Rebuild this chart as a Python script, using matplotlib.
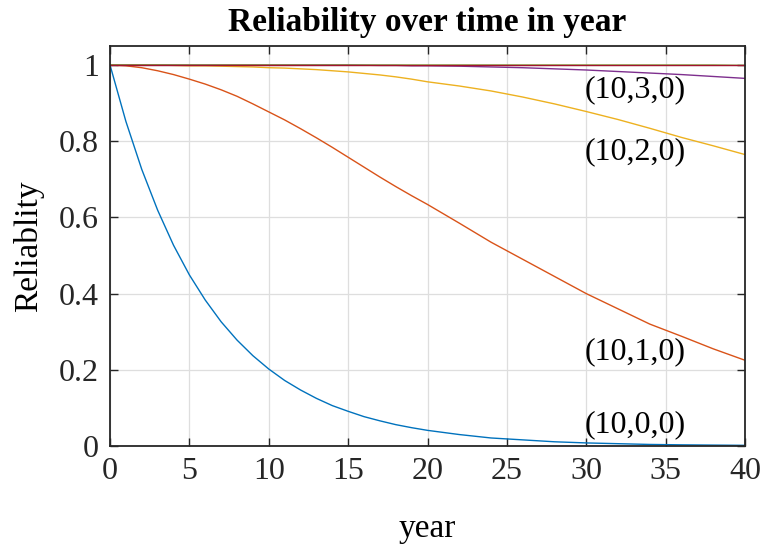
import numpy as np
import matplotlib.pyplot as plt

plt.rcParams["font.family"] = ["Liberation Serif", "DejaVu Serif"]

t = list(range(0, 21)) + list(range(22, 41, 2))
r_100 = [1, 0.852, 0.726, 0.619, 0.527, 0.449, 0.383, 0.326, 0.278, 0.237,
         0.202, 0.172, 0.147, 0.125, 0.106, 0.091, 0.077, 0.066, 0.056,
         0.048, 0.041, 0.030, 0.021, 0.016, 0.011, 0.008, 0.006, 0.004,
         0.003, 0.0023, 0.0017]
r_110 = [1, 0.998, 0.993, 0.985, 0.975, 0.963, 0.950, 0.935, 0.918, 0.898,
         0.877, 0.856, 0.833, 0.809, 0.784, 0.758, 0.732, 0.706, 0.681,
         0.657, 0.634, 0.585, 0.535, 0.490, 0.445, 0.400, 0.360, 0.320,
         0.288, 0.255, 0.225]
r_120 = [1, 1, 1, 1, 0.999, 0.998, 0.998, 0.997, 0.996, 0.995, 0.993,
         0.992, 0.990, 0.988, 0.985, 0.982, 0.978, 0.974, 0.969, 0.963,
         0.956, 0.945, 0.932, 0.916, 0.898, 0.878, 0.857, 0.834, 0.810,
         0.788, 0.765]
r_130 = [1] * 16 + [0.9995, 0.999, 0.999, 0.998, 0.998, 0.997, 0.995,
                    0.993, 0.990, 0.987, 0.983, 0.979, 0.975, 0.970, 0.965]
r_140 = [1] * 30 + [0.999]
r_150 = [1] * 31

series = [r_100, r_110, r_120, r_130, r_140, r_150]
colors = ["#0072BD", "#D95319", "#EDB120", "#7E2F8E", "#77AC30", "#A2142F"]
labels = ["(10,0,0)", "(10,1,0)", "(10,2,0)", "(10,3,0)"]
label_y = [0.055, 0.247, 0.772, 0.934]

fig = plt.figure(figsize=(7.63, 5.45), dpi=100)
ax = fig.add_axes([0.1442, 0.1817, 0.8322, 0.7339])

for r, c in zip(series, colors):
    ax.plot(t, r, color=c, lw=1.0)

for lab, y in zip(labels, label_y):
    ax.text(29.9, y, lab, fontsize=23, ha="left", va="center", color="black")

ax.set_xlim(0, 40)
ax.set_ylim(0, 1.05)
ax.set_xticks(np.arange(0, 41, 5))
ax.set_yticks([0, 0.2, 0.4, 0.6, 0.8, 1])
ax.set_yticklabels(["0", "0.2", "0.4", "0.6", "0.8", "1"])
ax.grid(True, color="#dedede", lw=0.9)
ax.set_axisbelow(True)
ax.tick_params(direction="in", top=True, right=True, labelsize=23, length=6,
               width=1.0, colors="#262626", pad=8)
for s in ax.spines.values():
    s.set_color("#262626")
    s.set_linewidth(1.3)

ax.set_xlabel("year", fontsize=24, labelpad=20)
ax.set_ylabel("Reliablity", fontsize=24, labelpad=11)
ax.set_title("Reliability over time in year", fontsize=24, fontweight="bold", pad=11)

fig.savefig("out.png", dpi=100, facecolor="white")
